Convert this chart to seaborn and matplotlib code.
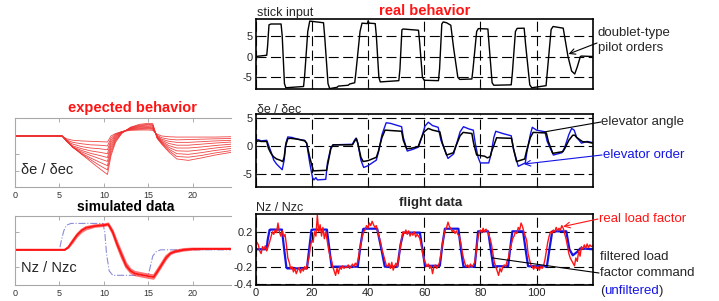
import numpy as np
import matplotlib
matplotlib.use("Agg")
import matplotlib.pyplot as plt
import seaborn as sns

# ---------------- data ----------------
# left top: "expected behavior", de/dec for several gains
exp_t = [0, 5.3, 5.8, 6.5, 7.5, 8.5, 9.5, 10.4, 10.8, 11.3, 12, 13, 14, 15, 15.5,
         16, 16.5, 17.3, 18.2, 19.5, 21, 22.5, 24.4]
exp_k1 = [0, 0, -0.08, -0.12, -0.14, -0.15, -0.16, -0.17, 0.0, 0.07, 0.12, 0.16, 0.17, 0.17, 0.16, 0.05, 0.0, -0.02, -0.03, -0.03, -0.03, -0.03, -0.02]
exp_k2 = [0, 0, -0.11, -0.18, -0.22, -0.25, -0.26, -0.28, -0.06, 0.05, 0.12, 0.18, 0.19, 0.2, 0.19, 0.02, -0.05, -0.09, -0.11, -0.1, -0.09, -0.08, -0.07]
exp_k3 = [0, 0, -0.14, -0.23, -0.30, -0.34, -0.36, -0.39, -0.12, 0.03, 0.12, 0.19, 0.21, 0.22, 0.21, 0.0, -0.09, -0.15, -0.18, -0.18, -0.16, -0.14, -0.12]
exp_k4 = [0, 0, -0.15, -0.28, -0.36, -0.42, -0.46, -0.5, -0.18, 0.0, 0.12, 0.2, 0.23, 0.24, 0.23, -0.02, -0.12, -0.21, -0.26, -0.26, -0.23, -0.2, -0.17]
exp_k5 = [0, 0, -0.15, -0.31, -0.41, -0.49, -0.55, -0.61, -0.25, -0.03, 0.11, 0.21, 0.25, 0.26, 0.25, -0.03, -0.15, -0.27, -0.34, -0.34, -0.31, -0.27, -0.23]
exp_k6 = [0, 0, -0.14, -0.32, -0.45, -0.55, -0.64, -0.72, -0.32, -0.06, 0.1, 0.22, 0.27, 0.28, 0.28, -0.04, -0.17, -0.32, -0.42, -0.43, -0.39, -0.34, -0.29]
exp_k7 = [0, 0, -0.13, -0.32, -0.49, -0.62, -0.74, -0.84, -0.4, -0.1, 0.09, 0.23, 0.29, 0.31, 0.3, -0.05, -0.19, -0.37, -0.5, -0.52, -0.47, -0.41, -0.35]
exp_k8 = [0, 0, -0.12, -0.32, -0.51, -0.67, -0.83, -0.96, -0.48, -0.14, 0.08, 0.24, 0.31, 0.33, 0.32, -0.06, -0.21, -0.41, -0.58, -0.6, -0.55, -0.48, -0.41]
exp_k9 = [0, 0, -0.11, -0.31, -0.52, -0.72, -0.92, -1.09, -0.56, -0.18, 0.07, 0.25, 0.33, 0.36, 0.35, -0.07, -0.23, -0.45, -0.65, -0.69, -0.62, -0.54, -0.46]

# left bottom: "simulated data", Nz/Nzc
sim_t = [0, 5.6, 6.0, 6.5, 7, 7.5, 8, 9, 10, 10.5, 11, 11.5, 12, 12.5, 13, 13.5, 14,
         15, 15.6, 16, 16.5, 17, 17.5, 18, 19, 20, 22, 24.4]
sim_a = [0, 0, 0.03, 0.1, 0.17, 0.22, 0.25, 0.27, 0.28, 0.29, 0.2, 0.06, -0.06, -0.18, -0.24, -0.27, -0.28, -0.3, -0.31, -0.25, -0.17, -0.09, -0.04, -0.02, 0.0, 0.01, 0.01, 0.01]
sim_b = [0, 0, 0.02, 0.08, 0.15, 0.2, 0.23, 0.26, 0.27, 0.28, 0.18, 0.04, -0.09, -0.2, -0.26, -0.29, -0.3, -0.32, -0.33, -0.27, -0.19, -0.11, -0.05, -0.03, -0.01, 0.0, 0.01, 0.01]
sim_c = [0, 0, 0.03, 0.11, 0.18, 0.23, 0.26, 0.28, 0.29, 0.3, 0.22, 0.09, -0.03, -0.15, -0.22, -0.25, -0.26, -0.28, -0.29, -0.23, -0.15, -0.07, -0.03, -0.01, 0.01, 0.015, 0.015, 0.015]
sim_cmd_t = [0, 5.0, 5.2, 5.5, 5.8, 6.3, 9.9, 10.1, 10.3, 10.6, 11.0, 15.0, 15.2, 15.5, 15.9, 16.4, 24.4]
sim_cmd_v = [0, 0, 0.1, 0.22, 0.28, 0.3, 0.3, 0.2, -0.05, -0.24, -0.29, -0.29, -0.2, -0.07, -0.02, 0.0, 0.0]

# right top: stick input (time s, value)
stick_pts = [(0, 0.0), (4.0, 0.3), (4.3, 2.5), (4.8, 7.6), (5.5, 7.8), (9.1, 7.8), (9.5, 5), (10.3, -6.5),
             (10.8, -7.5), (17.1, -7.2), (17.5, -4.5), (18.6, 6), (19.3, 8.5), (20.5, 8.4), (24.2, 8.1),
             (24.6, 5), (25.8, -6.5), (26.4, -7.7), (29, -7.4), (29.5, -7.1), (33, -6.9), (33.5, -6.6),
             (35.3, -6.3), (35.7, -4), (37.2, 6), (37.9, 8.0), (39.8, 7.9), (40.1, 8.6), (40.4, 8.0),
             (42.6, 7.9), (43.0, 5), (43.9, -5), (44.4, -6.1), (51.0, -5.8), (51.4, -3), (52.1, 6.4),
             (52.5, 6.6), (58.0, 6.3), (58.4, 3.5), (59.4, -5), (60.0, -5.7), (65.1, -5.8), (65.5, -3),
             (66.3, 7.8), (66.8, 8.3), (68, 8.1), (69.5, 7.5), (70.5, 2), (72, -5), (72.7, -5.5),
             (77.0, -5.4), (77.4, -3), (78.7, 6), (79.3, 6.7), (82.7, 6.6), (83.1, 3), (84.2, -6.3),
             (84.8, -6.9), (91.0, -6.8), (91.4, -4), (92.5, 6), (93.1, 6.75), (95.6, 6.8), (96.1, 3),
             (97.6, -6.8), (98.3, -7.5), (103.4, -7.0), (103.8, -4), (105.2, 6.5), (105.9, 7.2),
             (109.5, 6.8), (110.2, 4), (111.2, 0), (112.5, -3.5), (113.6, -4.2), (114.5, -2.5),
             (115.6, 0), (116, 0.1), (120, 0.0)]

# right middle: elevator angle (black) and elevator order (blue)
elev_angle_pts = [(0, 0.75), (1, 0.9), (2, 0.8), (4, 0.8), (4.6, -0.4), (5.5, -1.3), (6.4, -1.9), (7.5, -2.3),
                  (8.7, -2.5), (9.7, -2.75), (10.2, -2.0), (10.7, 0), (11.5, 1.3), (12.5, 1.35), (15, 1.2),
                  (17.5, 0.9), (18.2, 0.5), (19.3, -2), (20.6, -4.4), (25.3, -4.3), (25.8, -3), (26.8, -0.5),
                  (27.6, 0.2), (34.5, 0.2), (35.2, 0.8), (35.9, 1.3), (36.4, 0.5), (37.5, -2), (38.3, -2.75),
                  (40, -2.6), (43.0, -2.0), (43.7, -1), (45, 1.5), (46.1, 2.8), (49, 2.7), (52, 2.6),
                  (52.6, 1), (53.8, -0.5), (55.5, -0.4), (57.9, -0.1), (58.7, 1), (60, 2.5), (61.5, 3.1),
                  (63, 2.8), (65.6, 2.5), (66.5, 0.5), (68, -1.6), (70.4, -1.2), (71.5, 0.2), (72.8, 1.8),
                  (73.9, 2.4), (77.0, 2.2), (77.6, 0.5), (78.7, -1.6), (80, -1.7), (81.5, -1.8), (82.5, -2.1),
                  (83.5, -1.9), (84, -1), (85.8, 1.45), (88, 1.4), (91.1, 1.35), (91.8, -0.5), (92.9, -2.75),
                  (95.8, -2.3), (96.4, -1.0), (97.8, 1.5), (98.8, 2.4), (103.5, 2.3), (104.2, 0.8),
                  (105.8, -1.3), (109.4, -1.0), (110, -0.5), (111.5, 1), (112.9, 1.9), (113.6, 1.9),
                  (114.3, 1.5), (116.4, 0.75), (118, 0.7), (120, 0.5)]
elev_order_pts = [(0, 1.05), (1, 1.1), (2, 0.9), (4, 1.0), (4.6, 0.2), (5.5, -1.0), (6.5, -2.5), (7.5, -3.2),
                  (8.7, -3.8), (9.5, -4.2), (10.2, -2.5), (10.8, 0.5), (11.5, 1.6), (13, 1.5), (15, 1.2),
                  (17.5, 1.0), (18.2, 0.5), (19.3, -3), (20.3, -5.6), (20.8, -6.0), (21.5, -5.6), (22, -6.0),
                  (25, -5.9), (25.6, -3), (26.8, -0.3), (27.6, 0.2), (34.5, 0.3), (35.2, 1.0), (35.8, 1.4),
                  (36.4, 0.5), (37.5, -2.5), (38.5, -3.8), (40, -3.5), (43, -2.5), (43.8, -1), (45, 2),
                  (46.5, 4.1), (48, 4.0), (52, 3.4), (52.6, 1.5), (54, -0.9), (56, -0.6), (58, -0.2),
                  (58.8, 1), (60.3, 3.5), (61.5, 4.2), (63, 3.6), (65, 3.3), (66, 1), (68.5, -2.2),
                  (70.5, -1.4), (71.5, 0.3), (72.8, 2.5), (74, 3.4), (76, 3.0), (77.5, 2.8), (78.2, 0.5),
                  (79.2, -2), (80, -3.0), (83, -3.0), (83.8, -1.5), (84.8, 1.5), (85.5, 2.6), (88, 2.2),
                  (91, 1.8), (91.8, -0.5), (93.5, -3.6), (96, -3.0), (96.6, -1.0), (97.8, 2), (98.5, 3.3),
                  (100, 2.8), (103, 2.5), (103.8, 0.8), (106, -1.6), (109, -1.2), (110, -0.3), (111.5, 2),
                  (112.5, 3.1), (113.4, 2.8), (114.3, 1.5), (116, 0.5), (118, 0.8), (120, 0.6)]

# right bottom: filtered load factor command (blue)
nz_cmd_pts = [(0, 0), (4, 0), (4.3, 0.1), (5.0, 0.22), (5.3, 0.225), (9.4, 0.225), (10.2, 0), (11.0, -0.21),
              (11.3, -0.22), (18.3, -0.22), (19.1, 0), (19.9, 0.22), (20.2, 0.225), (25.4, 0.225), (26.3, 0),
              (27.1, -0.2), (27.4, -0.2), (36.4, -0.2), (37.4, 0.05), (38.3, 0.23), (38.6, 0.235),
              (43.3, 0.235), (44.8, 0), (46, -0.2), (50.5, -0.2), (51.6, 0.05), (52.6, 0.19), (58.5, 0.19),
              (59.4, 0), (60.3, -0.19), (65.6, -0.19), (66.5, 0.05), (67.4, 0.235), (72.2, 0.235),
              (73.1, 0), (74, -0.2), (78, -0.2), (78.6, 0), (79.2, 0.205), (82.8, 0.205), (83.7, 0),
              (84.6, -0.195), (89.9, -0.195), (90.6, 0), (91.4, 0.205), (95.2, 0.205), (96.1, 0),
              (97, -0.195), (103.7, -0.195), (104.6, 0), (105.6, 0.205), (110.6, 0.205), (111.7, 0),
              (112.9, -0.07), (114.5, -0.03), (115.6, 0.01), (120, 0.0)]

# right bottom: real load factor (red), one sample every 0.5 s
nz_real_t = np.arange(0, 120.5, 0.5)
nz_real_v = [0.02, 0.08, 0.05, -0.02, -0.05, 0.03, 0.0, 0.04, -0.02, 0.03,
             0.08, 0.14, 0.2, 0.17, 0.22, 0.19, 0.3, 0.2, 0.15, 0.21, 0.14, 0.17,
             0.05, -0.1, -0.15, -0.22, -0.2, -0.26, -0.22, -0.28, -0.24, -0.21, -0.27, -0.22, -0.25, -0.2, -0.23, -0.17,
             -0.1, 0.02, 0.1, 0.08, 0.2, 0.15, 0.39, 0.2, 0.28, 0.15, 0.25, 0.12, 0.2,
             0.1, 0.0, -0.08, -0.12, -0.2, -0.25, -0.3, -0.22, -0.28, -0.2, -0.23, -0.19, -0.22, -0.2, -0.21, -0.18,
             -0.22, -0.2, -0.17, -0.2, -0.16, -0.18, -0.12,
             -0.02, 0.06, 0.15, 0.2, 0.22, 0.27, 0.24, 0.3, 0.27, 0.32, 0.28, 0.25, 0.27, 0.2, 0.14, 0.08, 0.0, -0.06,
             -0.12, -0.18, -0.2, -0.16, -0.22, -0.15, -0.24, -0.19, -0.16, -0.2,
             -0.1, 0.02, 0.12, 0.2, 0.18, 0.22, 0.17, 0.21, 0.15, 0.19, 0.16, 0.2, 0.14, 0.17, 0.15, 0.12,
             0.04, -0.05, -0.12, -0.16, -0.2, -0.17, -0.22, -0.19, -0.28, -0.2, -0.18, -0.22, -0.19, -0.15,
             -0.05, 0.06, 0.15, 0.22, 0.25, 0.31, 0.26, 0.24, 0.2, 0.22, 0.18, 0.21, 0.17, 0.15,
             0.08, -0.02, -0.1, -0.16, -0.2, -0.18, -0.21, -0.17, -0.2, -0.18, -0.15, -0.05,
             0.1, 0.18, 0.22, 0.19, 0.24, 0.2, 0.23, 0.21, 0.17, 0.12, 0.05, -0.05,
             -0.15, -0.2, -0.25, -0.3, -0.22, -0.26, -0.2, -0.18, -0.2, -0.14, -0.1, 0.0,
             0.05, 0.12, 0.15, 0.2, 0.18, 0.25, 0.22, 0.3, 0.26, 0.2, 0.15, 0.1,
             -0.05, -0.12, -0.18, -0.2, -0.23, -0.19, -0.22, -0.2, -0.24, -0.2, -0.22, -0.19,
             -0.12, -0.02, 0.08, 0.15, 0.2, 0.18, 0.22, 0.2, 0.25, 0.21, 0.24, 0.22, 0.27, 0.24, 0.18, 0.12,
             0.04, -0.05, -0.1, -0.13, -0.16, -0.19, -0.1, -0.14, -0.02, -0.08, 0.03, 0.0, 0.05, 0.01, 0.06, 0.02,
             0.05, 0.03, 0.04]

# ---------------- figure ----------------
W, H = 719, 301
sns.set_style("ticks")
plt.rcParams['font.family'] = ['Liberation Sans', 'DejaVu Sans']
fig = plt.figure(figsize=(W / 100, H / 100), dpi=100)


def box(x0, y0, x1, y1):
    # image pixel box -> figure fraction rect
    return [x0 / W, 1 - y1 / H, (x1 - x0) / W, (y1 - y0) / H]


def fx(x, y):
    return x / W, 1 - y / H


RED = '#ff1414'
BLUE = '#1414e6'
dash = (0, (9, 4))

# ---- left panels (light grey frame, cropped on the right) ----
ax_exp = fig.add_axes(box(15, 118, 231, 186.5))
ax_sim = fig.add_axes(box(15, 215.5, 231, 285))
for ax in (ax_exp, ax_sim):
    for s in ax.spines.values():
        s.set_color('#a8a8a8')
        s.set_linewidth(0.8)
    ax.spines['right'].set_visible(False)
    ax.tick_params(direction='in', length=3, width=0.6, color='#a0a0a0', top=True,
                   labelsize=6.5, labelcolor='#333333', pad=3)
    ax.set_xlim(0, 24.3)
    ax.set_xticks([0, 5, 10, 15, 20])
    ax.set_yticklabels([])

for curve in [exp_k1, exp_k2, exp_k3, exp_k4, exp_k5, exp_k6, exp_k7, exp_k8, exp_k9]:
    sns.lineplot(x=exp_t, y=curve, ax=ax_exp, color='#ee3030', lw=0.6, alpha=0.9)
ax_exp.set_ylim(-1.43, 0.51)
ax_exp.set_yticks([-1, -0.5, 0])
ax_exp.set_yticklabels([])
ax_exp.text(0.03, 0.24, 'δe / δec', transform=ax_exp.transAxes, fontsize=10.5, va='center')

sns.lineplot(x=sim_cmd_t, y=sim_cmd_v, ax=ax_sim, color='#8c8cdc', lw=0.8, ls='-.')
for curve, a in [(sim_b, 0.6), (sim_c, 0.6), (sim_a, 1.0)]:
    sns.lineplot(x=sim_t, y=curve, ax=ax_sim, color=RED, lw=1.3, alpha=a)
ax_sim.set_ylim(-0.4, 0.39)
ax_sim.set_yticks([-0.2, 0, 0.2])
ax_sim.set_yticklabels([])
ax_sim.text(0.03, 0.25, 'Nz / Nzc', transform=ax_sim.transAxes, fontsize=10.5, va='center')

fig.text(*fx(132, 108), 'expected behavior', color=RED, fontsize=10.5, fontweight='bold',
         ha='center', va='center')
fig.text(*fx(126, 207), 'simulated data', color='k', fontsize=10, fontweight='bold',
         ha='center', va='center')

# ---- right panels (flight data) ----
ax_st = fig.add_axes(box(255.5, 19, 593, 89))
ax_el = fig.add_axes(box(255.5, 114, 593, 186.7))
ax_nz = fig.add_axes(box(255.5, 214.3, 593, 285))
for ax in (ax_st, ax_el, ax_nz):
    for s in ax.spines.values():
        s.set_color('k')
        s.set_linewidth(1.2)
    ax.set_xlim(0, 120.1)
    ax.set_xticks([0, 20, 40, 60, 80, 100])
    ax.grid(True, color='k', lw=0.8, ls=dash)
    ax.set_axisbelow(True)
    ax.tick_params(direction='in', length=2.5, width=0.8, labelsize=8, pad=2)
ax_st.tick_params(labelbottom=False)
ax_el.tick_params(labelbottom=False)

st_t, st_v = zip(*stick_pts)
sns.lineplot(x=st_t, y=st_v, ax=ax_st, color='k', lw=1.0)
ax_st.set_ylim(-7.8, 9.0)
ax_st.set_yticks([-5, 0, 5])

ea_t, ea_v = zip(*elev_angle_pts)
eo_t, eo_v = zip(*elev_order_pts)
sns.lineplot(x=eo_t, y=eo_v, ax=ax_el, color=BLUE, lw=1.0)
sns.lineplot(x=ea_t, y=ea_v, ax=ax_el, color='k', lw=1.1)
ax_el.set_ylim(-7.2, 5.65)
ax_el.set_yticks([-5, 0, 5])

nc_t, nc_v = zip(*nz_cmd_pts)
sns.lineplot(x=nc_t, y=nc_v, ax=ax_nz, color=BLUE, lw=1.6)
sns.lineplot(x=nz_real_t, y=nz_real_v, ax=ax_nz, color=RED, lw=1.0)
ax_nz.set_ylim(-0.41, 0.4)
ax_nz.set_yticks([-0.4, -0.2, 0, 0.2])
ax_nz.set_yticklabels(['-0.4', '-0.2', '0', '0.2'])
ax_nz.set_xticklabels(['0', '20', '40', '60', '80', '100'])
for ax in (ax_st, ax_el):
    ax.set_yticklabels(['-5', '0', '5'])

# panel labels
fig.text(*fx(257, 13), 'stick input', fontsize=9, va='center')
fig.text(*fx(425, 11), 'real behavior', color=RED, fontsize=10.5, fontweight='bold',
         ha='center', va='center')
fig.text(*fx(257, 110), 'δe / δec', fontsize=9, va='center')
fig.text(*fx(256, 208), 'Nz / Nzc', fontsize=9, va='center')
fig.text(*fx(431, 203), 'flight data', fontsize=9.5, fontweight='bold', ha='center', va='center')

# annotations on the right
fs = 9.5
fig.text(*fx(598, 33), 'doublet-type', fontsize=fs, va='center')
fig.text(*fx(598, 48), 'pilot orders', fontsize=fs, va='center')
ax_st.annotate('', xy=(111.4, 0.6), xytext=fx(597, 43), textcoords='figure fraction',
               arrowprops=dict(arrowstyle='->', color='k', lw=0.8, shrinkA=0, shrinkB=0))

fig.text(*fx(601, 122), 'elevator angle', fontsize=fs, va='center')
ax_el.annotate('', xy=(103, 2.5), xytext=fx(601, 122), textcoords='figure fraction',
               arrowprops=dict(arrowstyle='-', color='k', lw=0.8, shrinkA=0, shrinkB=0))
fig.text(*fx(603, 155), 'elevator order', fontsize=fs, va='center', color=BLUE)
ax_el.annotate('', xy=(95.5, -3.2), xytext=fx(602, 155), textcoords='figure fraction',
               arrowprops=dict(arrowstyle='->', color=BLUE, lw=0.8, shrinkA=0, shrinkB=0))

fig.text(*fx(599, 219), 'real load factor', fontsize=fs, va='center', color=RED)
ax_nz.annotate('', xy=(109.5, 0.26), xytext=fx(598, 219), textcoords='figure fraction',
               arrowprops=dict(arrowstyle='->', color=RED, lw=0.8, shrinkA=0, shrinkB=0))

fig.text(*fx(600, 257), 'filtered load', fontsize=fs, va='center')
fig.text(*fx(600, 273), 'factor command', fontsize=fs, va='center')
ax_nz.annotate('', xy=(84.3, -0.1), xytext=fx(599, 273), textcoords='figure fraction',
               arrowprops=dict(arrowstyle='-', color='k', lw=0.8, shrinkA=0, shrinkB=0))
p1 = fig.text(*fx(600, 291), '(', fontsize=fs, va='center')
fig.canvas.draw()
bb = p1.get_window_extent()
p2 = fig.text(bb.x1 / W, 1 - 291 / H, 'unfiltered', fontsize=fs, va='center', color=BLUE)
fig.canvas.draw()
bb = p2.get_window_extent()
fig.text(bb.x1 / W, 1 - 291 / H, ')', fontsize=fs, va='center')

fig.savefig('out.png', dpi=100)
